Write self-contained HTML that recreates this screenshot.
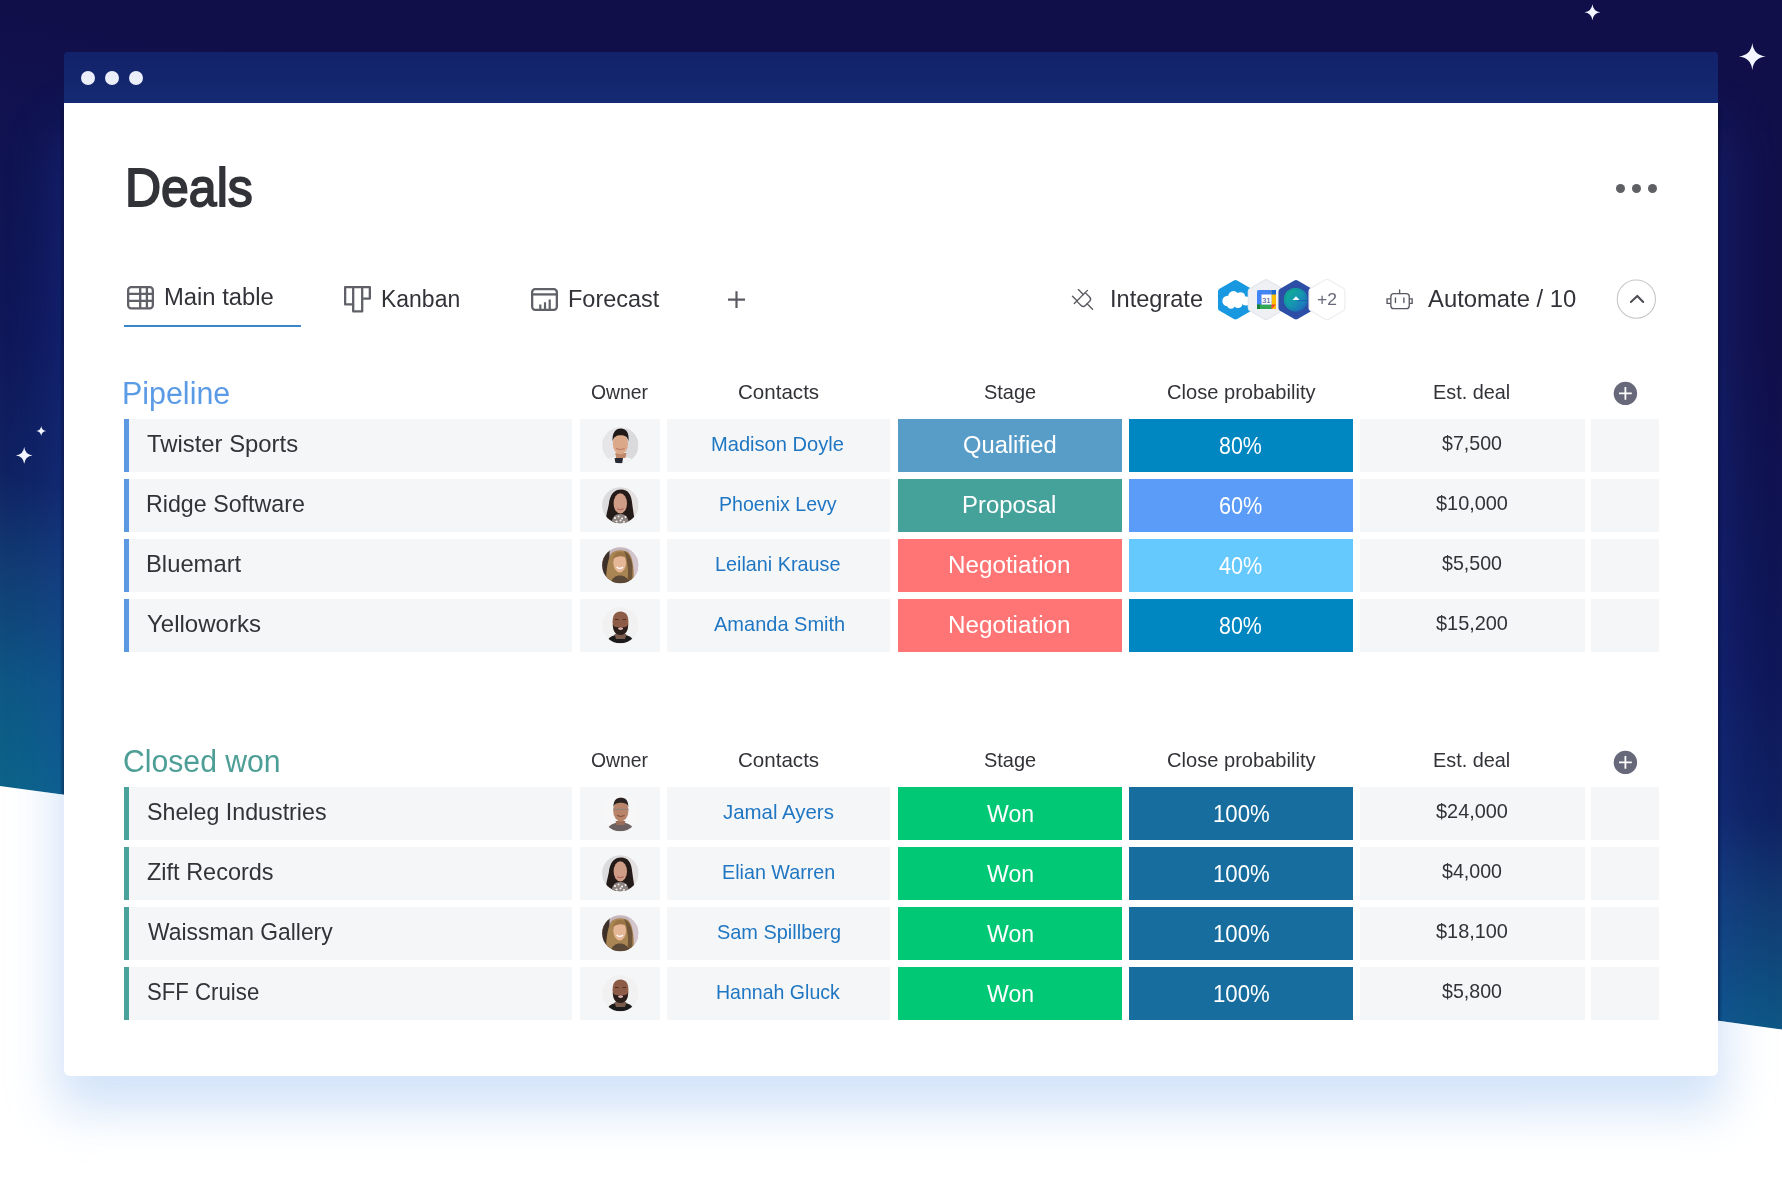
<!DOCTYPE html>
<html><head><meta charset="utf-8"><title>Deals</title>
<style>
html,body{margin:0;padding:0;}
body{width:1782px;height:1188px;position:relative;overflow:hidden;background:#fff;font-family:"Liberation Sans",sans-serif;}
.abs{position:absolute;}
.t{position:absolute;white-space:nowrap;line-height:1;transform-origin:0 0;}
.c{position:absolute;}
.g{background:#f5f6f8;}
.av{position:absolute;}
</style></head><body>
<svg class="abs" style="left:0;top:0" width="1782" height="1188" viewBox="0 0 1782 1188">
<defs>
<linearGradient id="bgg" gradientUnits="userSpaceOnUse" x1="0" y1="0" x2="-147.66" y2="757.21">
<stop offset="0" stop-color="#110f4a"/>
<stop offset="0.42" stop-color="#0f1759"/>
<stop offset="0.60" stop-color="#102262"/>
<stop offset="0.71" stop-color="#123a72"/>
<stop offset="0.865" stop-color="#0e5684"/>
<stop offset="1" stop-color="#0c6389"/>
</linearGradient>
<filter id="blur1" x="-20%" y="-20%" width="140%" height="140%"><feGaussianBlur stdDeviation="28"/></filter>
<filter id="blur3" x="-5%" y="-5%" width="110%" height="110%"><feGaussianBlur stdDeviation="1.5"/></filter>
<filter id="blur2" x="-10%" y="-30%" width="120%" height="160%"><feGaussianBlur stdDeviation="24"/></filter>
<clipPath id="whiteclip"><polygon points="0,786 1782,1029.4 1782,1188 0,1188"/></clipPath>
</defs>
<rect width="1782" height="1188" fill="url(#bgg)"/>
<rect x="64" y="130" width="1654" height="946" fill="#1a48c0" opacity="0.38" filter="url(#blur1)"/>
<path d="M64 108V1072Q64 1076 68 1076H1714Q1718 1076 1718 1072V108" fill="none" stroke="#070720" stroke-width="3" opacity="0.55" filter="url(#blur3)"/>
<polygon points="0,786 1782,1029.4 1782,1188 0,1188" fill="#ffffff"/>
<g clip-path="url(#whiteclip)">
<rect x="56" y="700" width="1670" height="410" rx="14" fill="#cde0f8" opacity="0.9" filter="url(#blur2)"/>
</g>
<path d="M1592.4 4.300000000000001 Q1593.2 11.5 1600.4 12.3 Q1593.2 13.100000000000001 1592.4 20.3 Q1591.6000000000001 13.100000000000001 1584.4 12.3 Q1591.6000000000001 11.5 1592.4 4.300000000000001Z" fill="#f4f6ff"/>
<path d="M1752.3 43.1 Q1753.6399999999999 55.16 1765.7 56.5 Q1753.6399999999999 57.84 1752.3 69.9 Q1750.96 57.84 1738.8999999999999 56.5 Q1750.96 55.16 1752.3 43.1Z" fill="#f4f6ff"/>
<path d="M41.2 425.9 Q41.7 430.4 46.2 430.9 Q41.7 431.4 41.2 435.9 Q40.7 431.4 36.2 430.9 Q40.7 430.4 41.2 425.9Z" fill="#f4f6ff"/>
<path d="M24.2 447.09999999999997 Q25.03 454.57 32.5 455.4 Q25.03 456.22999999999996 24.2 463.7 Q23.369999999999997 456.22999999999996 15.899999999999999 455.4 Q23.369999999999997 454.57 24.2 447.09999999999997Z" fill="#f4f6ff"/>
</svg>
<div class="abs" style="left:64px;top:52px;width:1654px;height:51px;background:linear-gradient(180deg,#13226a,#13276e 60%,#142a74);border-radius:4px 4px 0 0"></div>
<div class="abs" style="left:64px;top:103px;width:1654px;height:973px;background:#ffffff;border-radius:0 0 6px 6px"></div>
<div class="abs" style="left:81px;top:70.7px;width:14px;height:14px;border-radius:50%;background:#eceffa"></div>
<div class="abs" style="left:105px;top:70.7px;width:14px;height:14px;border-radius:50%;background:#eceffa"></div>
<div class="abs" style="left:129px;top:70.7px;width:14px;height:14px;border-radius:50%;background:#eceffa"></div>
<div class="abs" style="left:1616.1px;top:183.8px;width:9px;height:9px;border-radius:50%;background:#5f6064"></div>
<div class="abs" style="left:1631.8px;top:183.8px;width:9px;height:9px;border-radius:50%;background:#5f6064"></div>
<div class="abs" style="left:1647.5px;top:183.8px;width:9px;height:9px;border-radius:50%;background:#5f6064"></div>
<div class="abs" style="left:124px;top:325px;width:177px;height:2px;background:#3a86cc"></div>

<svg class="abs" style="left:127px;top:286px" width="27" height="24" viewBox="0 0 27 24" fill="none" stroke="#606168" stroke-width="2.3">
<rect x="1.15" y="1.15" width="24.7" height="21.2" rx="3"/>
<path d="M13.2 1.2V22.4M19.9 1.2V22.4M1.2 7.9H25.9M1.2 14.9H25.9"/>
</svg>
<svg class="abs" style="left:344px;top:286px" width="27" height="27" viewBox="0 0 27 27" fill="none" stroke="#606168" stroke-width="2.3" stroke-linejoin="round">
<path d="M1.15 1.15H25.85V12.6H18.2V25.4H9.2V18.4H1.15Z"/>
<path d="M9.2 1.2V18.4M18.2 1.2V12.6"/>
</svg>
<svg class="abs" style="left:531px;top:288px" width="27" height="23" viewBox="0 0 27 23" fill="none" stroke="#606168" stroke-width="2.3">
<rect x="1.15" y="1.15" width="24.7" height="20.7" rx="3"/>
<path d="M1.2 6.4H25.9"/>
<path d="M9.3 21V16.6M14 21V14.2M18.7 21V11.6" stroke-width="2.2"/>
</svg>
<svg class="abs" style="left:726px;top:290px" width="21" height="20" viewBox="0 0 21 20" fill="none" stroke="#5a5b62" stroke-width="2.2">
<path d="M2 9.7H19M10.5 1.3V18"/>
</svg>
<svg class="abs" style="left:1066px;top:282px" width="34" height="34" viewBox="0 0 34 34" fill="none" stroke="#5a5a60" stroke-width="1.35" stroke-linecap="round">
<g transform="translate(14.9 14.95) rotate(-45)">
<path d="M-9.3 0H9.3"/>
<path d="M6.1 0V6.2A3 3 0 0 1 3.1 9.2H-2.9A3 3 0 0 1 -5.9 6.2V0"/>
<path d="M3.4 0V-7M-5.45 0V-6.5M-0.5 9.2V17"/>
</g>
</svg>
<svg class="abs" style="left:1380px;top:282px" width="40" height="34" viewBox="0 0 40 34" fill="none" stroke="#585862" stroke-width="1.35">
<rect x="10.85" y="11.55" width="18.4" height="15.1" rx="3"/>
<path d="M19.6 7.9V11.55M15.45 16V20.6M23.9 16V20.6" stroke-linecap="round"/>
<path d="M10.85 16.85H7.05V21.35H10.85M29.25 16.85H32.15V21.35H29.25"/>
</svg>
<svg class="abs" style="left:1610px;top:272px" width="54" height="54" viewBox="0 0 54 54" fill="none">
<circle cx="26.35" cy="27.15" r="19.1" stroke="#c6c6c8" stroke-width="1.1"/>
<path d="M20.9 30L27.3 23.9L33.2 30" stroke="#4f4f57" stroke-width="2.1" stroke-linecap="round" stroke-linejoin="round"/>
</svg>

<svg class="abs" style="left:1210px;top:270px" width="140" height="60" viewBox="1210 270 140 60">
<defs>
<linearGradient id="tg" x1="0" y1="0" x2="1" y2="1"><stop offset="0" stop-color="#10b48a"/><stop offset="0.5" stop-color="#1497b0"/><stop offset="1" stop-color="#2463c4"/></linearGradient>
</defs>
<polygon points="1235.50,283.20 1249.79,291.45 1249.79,307.95 1235.50,316.20 1221.21,307.95 1221.21,291.45" fill="#1798e0" stroke="#1798e0" stroke-width="6.5" stroke-linejoin="round"/>
<g fill="#ffffff">
<circle cx="1227.5" cy="301" r="5.2"/><circle cx="1233.5" cy="296.5" r="5.4"/><circle cx="1240.5" cy="297" r="4.8"/><circle cx="1246" cy="301" r="4.6"/><circle cx="1238" cy="303.5" r="4.6"/><circle cx="1231" cy="304.5" r="4.2"/>
</g>
<polygon points="1266.00,283.10 1280.29,291.35 1280.29,307.85 1266.00,316.10 1251.71,307.85 1251.71,291.35" fill="#eef0f4" stroke="#e3e5ea" stroke-width="8" stroke-linejoin="round"/>
<polygon points="1266.00,283.10 1280.29,291.35 1280.29,307.85 1266.00,316.10 1251.71,307.85 1251.71,291.35" fill="#eef0f4" stroke="#eef0f4" stroke-width="5.6" stroke-linejoin="round"/>
<g>
<rect x="1257" y="290" width="19" height="19" rx="1.5" fill="#4285f4"/>
<rect x="1271.5" y="290" width="4.5" height="19" fill="#fbbc04"/>
<rect x="1271.5" y="290" width="4.5" height="4.5" fill="#1967d2"/>
<rect x="1257" y="304.5" width="14.5" height="4.5" fill="#34a853"/>
<rect x="1257" y="304.5" width="3" height="4.5" fill="#188038"/>
<path d="M1271.5 304.5H1276L1271.5 309Z" fill="#ea4335"/>
<rect x="1261.5" y="294.5" width="10" height="10" fill="#ffffff"/>
<text x="1266.3" y="302.8" font-family="Liberation Sans" font-size="7.8" fill="#3d4788" text-anchor="middle">31</text>
</g>
<polygon points="1296.00,283.20 1310.29,291.45 1310.29,307.95 1296.00,316.20 1281.71,307.95 1281.71,291.45" fill="#2d4ea6" stroke="#2d4ea6" stroke-width="6.5" stroke-linejoin="round"/>
<circle cx="1295.7" cy="299.7" r="11.8" fill="url(#tg)"/>
<circle cx="1295.7" cy="299.7" r="10.6" fill="none" stroke="#0a5f8a" stroke-opacity="0.35" stroke-width="0.8"/>
<path d="M1296.8 300.6H1307" stroke="#1d4fb0" stroke-width="1" opacity="0.6"/>
<path d="M1296 296.2L1299.6 300H1292.4Z" fill="#f2fbff"/>
<polygon points="1327.00,282.75 1341.51,291.12 1341.51,307.88 1327.00,316.25 1312.49,307.88 1312.49,291.12" fill="#ffffff" stroke="#ededf0" stroke-width="8" stroke-linejoin="round"/>
<polygon points="1327.00,282.75 1341.51,291.12 1341.51,307.88 1327.00,316.25 1312.49,307.88 1312.49,291.12" fill="#ffffff" stroke="#ffffff" stroke-width="5.6" stroke-linejoin="round"/>
</svg>
<svg class="abs" style="left:1612px;top:380px" width="27" height="27" viewBox="0 0 27 27"><circle cx="13.4" cy="13.4" r="11.7" fill="#676879"/><path d="M7 13.4H19.8M13.4 7V19.8" stroke="#fff" stroke-width="1.8"/></svg>
<svg class="abs" style="left:1612px;top:748.5px" width="27" height="27" viewBox="0 0 27 27"><circle cx="13.4" cy="13.4" r="11.7" fill="#676879"/><path d="M7 13.4H19.8M13.4 7V19.8" stroke="#fff" stroke-width="1.8"/></svg>
<div class="c" style="left:124px;top:418.7px;width:5px;height:53px;background:#5b99e3"></div><div class="c g" style="left:129px;top:418.7px;width:443px;height:53px"></div><div class="c g" style="left:580px;top:418.7px;width:80px;height:53px"></div><div class="c g" style="left:667px;top:418.7px;width:223px;height:53px"></div><div class="c" style="left:898px;top:418.7px;width:224px;height:53px;background:#589dc8"></div><div class="c" style="left:1129px;top:418.7px;width:224px;height:53px;background:#0086c0"></div><div class="c g" style="left:1360px;top:418.7px;width:225px;height:53px"></div><div class="c g" style="left:1591px;top:418.7px;width:68px;height:53px"></div><div class="c" style="left:124px;top:478.7px;width:5px;height:53px;background:#5b99e3"></div><div class="c g" style="left:129px;top:478.7px;width:443px;height:53px"></div><div class="c g" style="left:580px;top:478.7px;width:80px;height:53px"></div><div class="c g" style="left:667px;top:478.7px;width:223px;height:53px"></div><div class="c" style="left:898px;top:478.7px;width:224px;height:53px;background:#45a29b"></div><div class="c" style="left:1129px;top:478.7px;width:224px;height:53px;background:#5b9cf8"></div><div class="c g" style="left:1360px;top:478.7px;width:225px;height:53px"></div><div class="c g" style="left:1591px;top:478.7px;width:68px;height:53px"></div><div class="c" style="left:124px;top:538.7px;width:5px;height:53px;background:#5b99e3"></div><div class="c g" style="left:129px;top:538.7px;width:443px;height:53px"></div><div class="c g" style="left:580px;top:538.7px;width:80px;height:53px"></div><div class="c g" style="left:667px;top:538.7px;width:223px;height:53px"></div><div class="c" style="left:898px;top:538.7px;width:224px;height:53px;background:#ff7474"></div><div class="c" style="left:1129px;top:538.7px;width:224px;height:53px;background:#66c9fd"></div><div class="c g" style="left:1360px;top:538.7px;width:225px;height:53px"></div><div class="c g" style="left:1591px;top:538.7px;width:68px;height:53px"></div><div class="c" style="left:124px;top:598.7px;width:5px;height:53px;background:#5b99e3"></div><div class="c g" style="left:129px;top:598.7px;width:443px;height:53px"></div><div class="c g" style="left:580px;top:598.7px;width:80px;height:53px"></div><div class="c g" style="left:667px;top:598.7px;width:223px;height:53px"></div><div class="c" style="left:898px;top:598.7px;width:224px;height:53px;background:#ff7474"></div><div class="c" style="left:1129px;top:598.7px;width:224px;height:53px;background:#0086c0"></div><div class="c g" style="left:1360px;top:598.7px;width:225px;height:53px"></div><div class="c g" style="left:1591px;top:598.7px;width:68px;height:53px"></div><div class="c" style="left:124px;top:786.9px;width:5px;height:53px;background:#4aa39a"></div><div class="c g" style="left:129px;top:786.9px;width:443px;height:53px"></div><div class="c g" style="left:580px;top:786.9px;width:80px;height:53px"></div><div class="c g" style="left:667px;top:786.9px;width:223px;height:53px"></div><div class="c" style="left:898px;top:786.9px;width:224px;height:53px;background:#00c875"></div><div class="c" style="left:1129px;top:786.9px;width:224px;height:53px;background:#176d9d"></div><div class="c g" style="left:1360px;top:786.9px;width:225px;height:53px"></div><div class="c g" style="left:1591px;top:786.9px;width:68px;height:53px"></div><div class="c" style="left:124px;top:846.9px;width:5px;height:53px;background:#4aa39a"></div><div class="c g" style="left:129px;top:846.9px;width:443px;height:53px"></div><div class="c g" style="left:580px;top:846.9px;width:80px;height:53px"></div><div class="c g" style="left:667px;top:846.9px;width:223px;height:53px"></div><div class="c" style="left:898px;top:846.9px;width:224px;height:53px;background:#00c875"></div><div class="c" style="left:1129px;top:846.9px;width:224px;height:53px;background:#176d9d"></div><div class="c g" style="left:1360px;top:846.9px;width:225px;height:53px"></div><div class="c g" style="left:1591px;top:846.9px;width:68px;height:53px"></div><div class="c" style="left:124px;top:906.9px;width:5px;height:53px;background:#4aa39a"></div><div class="c g" style="left:129px;top:906.9px;width:443px;height:53px"></div><div class="c g" style="left:580px;top:906.9px;width:80px;height:53px"></div><div class="c g" style="left:667px;top:906.9px;width:223px;height:53px"></div><div class="c" style="left:898px;top:906.9px;width:224px;height:53px;background:#00c875"></div><div class="c" style="left:1129px;top:906.9px;width:224px;height:53px;background:#176d9d"></div><div class="c g" style="left:1360px;top:906.9px;width:225px;height:53px"></div><div class="c g" style="left:1591px;top:906.9px;width:68px;height:53px"></div><div class="c" style="left:124px;top:966.9px;width:5px;height:53px;background:#4aa39a"></div><div class="c g" style="left:129px;top:966.9px;width:443px;height:53px"></div><div class="c g" style="left:580px;top:966.9px;width:80px;height:53px"></div><div class="c g" style="left:667px;top:966.9px;width:223px;height:53px"></div><div class="c" style="left:898px;top:966.9px;width:224px;height:53px;background:#00c875"></div><div class="c" style="left:1129px;top:966.9px;width:224px;height:53px;background:#176d9d"></div><div class="c g" style="left:1360px;top:966.9px;width:225px;height:53px"></div><div class="c g" style="left:1591px;top:966.9px;width:68px;height:53px"></div>
<svg class="av" style="left:602.25px;top:427.25px" width="36.5" height="36.5" viewBox="0 0 36.5 36.5"><defs><clipPath id="cpA445"><circle cx="18.25" cy="18.25" r="18.1"/></clipPath></defs><g clip-path="url(#cpA445)"><rect width="36.5" height="36.5" fill="#e6e6e8"/>
<rect x="24" width="12.5" height="36.5" fill="#dadadc"/>
<path d="M3 36.5 C6 31 11 29.5 18 29.5 C25 29.5 31 31 34 36.5Z" fill="#f4f4f4"/>
<path d="M13.2 26 H24.5 L23.5 31 H14.2Z" fill="#c08a6a"/>
<path d="M12.6 31 H21 L20.2 36.5 H13.4Z" fill="#262a36"/>
<ellipse cx="18.4" cy="16.8" rx="7.6" ry="10.4" fill="#dca88a"/>
<path d="M10.6 14.5 C10 6 13.5 1.6 18.8 1.6 C24 1.6 27.4 5.5 26.5 14.5 C25.6 9.5 23 8.2 18.6 8.2 C14.3 8.2 11.6 9.8 10.6 14.5Z" fill="#1f1a18"/>
<path d="M14 21.5 Q18.4 23.8 22.6 21.5" stroke="#b07060" stroke-width="0.9" fill="none"/></g></svg>
<svg class="av" style="left:602.25px;top:487.25px" width="36.5" height="36.5" viewBox="0 0 36.5 36.5"><defs><clipPath id="cpB505"><circle cx="18.25" cy="18.25" r="18.1"/></clipPath></defs><g clip-path="url(#cpB505)"><rect width="36.5" height="36.5" fill="#dcdcde"/>
<rect x="24" width="12.5" height="36.5" fill="#e4e0e0"/>
<path d="M3.5 36.5 C3.5 30 5.5 24 6.8 17.5 C8 7 12.5 2.6 19.2 2.6 C26 2.6 29.5 7.5 30.3 17.5 C31 24 32.5 30 32.5 36.5Z" fill="#241a18"/>
<ellipse cx="18.3" cy="16.4" rx="6.7" ry="10.2" fill="#cf9c86"/>
<path d="M9.5 36.5 C10 30 13 27 18.3 27 C23.5 27 26.2 30 27 36.5Z" fill="#8e8480"/>
<g fill="#f2f0ee"><circle cx="13" cy="31" r="1.1"/><circle cx="16.5" cy="29.5" r="1"/><circle cx="20" cy="31.5" r="1.1"/><circle cx="23.5" cy="30" r="1"/><circle cx="14.5" cy="34.5" r="1.1"/><circle cx="18.5" cy="33.5" r="1"/><circle cx="22" cy="35" r="1.1"/></g>
<path d="M15 21.8 Q18.3 23.6 21.6 21.8" stroke="#a86060" stroke-width="1" fill="none"/></g></svg>
<svg class="av" style="left:602.25px;top:547.25px" width="36.5" height="36.5" viewBox="0 0 36.5 36.5"><defs><clipPath id="cpC565"><circle cx="18.25" cy="18.25" r="18.1"/></clipPath></defs><g clip-path="url(#cpC565)"><rect width="36.5" height="36.5" fill="#c6b6bd"/>
<rect x="0" width="7.5" height="36.5" fill="#3e3129"/>
<rect x="27" width="9.5" height="36.5" fill="#d4c4cc"/>
<path d="M4.5 36.5 C3.5 28 5 14 9 7 C12 2.5 23 2 27 6 C31 10.5 32.5 25 31.5 36.5Z" fill="#a88552"/>
<path d="M22 4 C27 6 30 12 30.5 20 C30 27 31 33 29 36.5 L25 36.5 C27 28 26 14 22 4Z" fill="#6e5438"/>
<ellipse cx="17.7" cy="15.8" rx="6.4" ry="9.6" fill="#e6b797"/>
<path d="M11.3 12 C12 6.5 15 5 18.5 5 C22 5 24.5 7 24.5 11 C21.5 8.5 15 8.2 11.3 12Z" fill="#9a7444"/>
<path d="M14.6 20 Q17.8 22.8 21 20" stroke="#ffffff" stroke-width="1.3" fill="none"/>
<path d="M8 36.5 C10 31 13.5 28.5 18 28.5 C22.5 28.5 26 31 28 36.5Z" fill="#5a4736"/></g></svg>
<svg class="av" style="left:602.25px;top:607.25px" width="36.5" height="36.5" viewBox="0 0 36.5 36.5"><defs><clipPath id="cpD625"><circle cx="18.25" cy="18.25" r="18.1"/></clipPath></defs><g clip-path="url(#cpD625)"><rect width="36.5" height="36.5" fill="#f1f1f2"/>
<path d="M4.2 36.5 C6 30 11 27.5 18.5 27.5 C26 27.5 31 30 32.5 36.5Z" fill="#1c1a1b"/>
<path d="M12.5 27 H24.5 L23 32 H14Z" fill="#7a5a4c"/>
<path d="M10.6 15 C10.6 8 13.5 4.6 18.5 4.6 C23.6 4.6 26.4 8 26.4 15 C26.4 23 23.5 28 18.5 28 C13.5 28 10.6 23 10.6 15Z" fill="#8c5c46"/>
<path d="M10.8 17.5 C11 24 13.5 28 18.5 28 C23.5 28 26 24 26.2 17.5 C24.5 21 22 20 18.5 20 C15 20 12.5 21 10.8 17.5Z" fill="#2a1e1a"/>
<ellipse cx="18.6" cy="21.6" rx="2.6" ry="1.4" fill="#d8b0a8"/>
<path d="M13 12.5 H16.5 M20.5 12.5 H24" stroke="#4a3020" stroke-width="1"/></g></svg>
<svg class="av" style="left:602.25px;top:795.45px" width="36.5" height="36.5" viewBox="0 0 36.5 36.5"><defs><clipPath id="cpE813"><circle cx="18.25" cy="18.25" r="18.1"/></clipPath></defs><g clip-path="url(#cpE813)"><rect width="36.5" height="36.5" fill="#f7f7f8"/>
<path d="M4.2 36.5 C6 30.5 11 27.5 18.5 27.5 C26 27.5 31 30.5 32.8 36.5Z" fill="#6c6160"/>
<path d="M13.5 26 H23.5 L22.5 30 H14.5Z" fill="#9a6e5a"/>
<ellipse cx="18.8" cy="15.8" rx="7.6" ry="10.6" fill="#b8846a"/>
<path d="M11.4 12 C11.4 5 14.5 2.7 18.9 2.7 C23.3 2.7 26.4 5 26.4 12 C25 8.5 22.5 7.8 18.9 7.8 C15.3 7.8 12.8 8.5 11.4 12Z" fill="#2a2220"/>
<path d="M11.2 14.3 H26.6" stroke="#8c8480" stroke-width="1"/>
<path d="M15 20.5 Q18.8 22.5 22.5 20.5" stroke="#7a4a3a" stroke-width="1" fill="none"/></g></svg>
<svg class="av" style="left:602.25px;top:855.45px" width="36.5" height="36.5" viewBox="0 0 36.5 36.5"><defs><clipPath id="cpB873"><circle cx="18.25" cy="18.25" r="18.1"/></clipPath></defs><g clip-path="url(#cpB873)"><rect width="36.5" height="36.5" fill="#dcdcde"/>
<rect x="24" width="12.5" height="36.5" fill="#e4e0e0"/>
<path d="M3.5 36.5 C3.5 30 5.5 24 6.8 17.5 C8 7 12.5 2.6 19.2 2.6 C26 2.6 29.5 7.5 30.3 17.5 C31 24 32.5 30 32.5 36.5Z" fill="#241a18"/>
<ellipse cx="18.3" cy="16.4" rx="6.7" ry="10.2" fill="#cf9c86"/>
<path d="M9.5 36.5 C10 30 13 27 18.3 27 C23.5 27 26.2 30 27 36.5Z" fill="#8e8480"/>
<g fill="#f2f0ee"><circle cx="13" cy="31" r="1.1"/><circle cx="16.5" cy="29.5" r="1"/><circle cx="20" cy="31.5" r="1.1"/><circle cx="23.5" cy="30" r="1"/><circle cx="14.5" cy="34.5" r="1.1"/><circle cx="18.5" cy="33.5" r="1"/><circle cx="22" cy="35" r="1.1"/></g>
<path d="M15 21.8 Q18.3 23.6 21.6 21.8" stroke="#a86060" stroke-width="1" fill="none"/></g></svg>
<svg class="av" style="left:602.25px;top:915.45px" width="36.5" height="36.5" viewBox="0 0 36.5 36.5"><defs><clipPath id="cpC933"><circle cx="18.25" cy="18.25" r="18.1"/></clipPath></defs><g clip-path="url(#cpC933)"><rect width="36.5" height="36.5" fill="#c6b6bd"/>
<rect x="0" width="7.5" height="36.5" fill="#3e3129"/>
<rect x="27" width="9.5" height="36.5" fill="#d4c4cc"/>
<path d="M4.5 36.5 C3.5 28 5 14 9 7 C12 2.5 23 2 27 6 C31 10.5 32.5 25 31.5 36.5Z" fill="#a88552"/>
<path d="M22 4 C27 6 30 12 30.5 20 C30 27 31 33 29 36.5 L25 36.5 C27 28 26 14 22 4Z" fill="#6e5438"/>
<ellipse cx="17.7" cy="15.8" rx="6.4" ry="9.6" fill="#e6b797"/>
<path d="M11.3 12 C12 6.5 15 5 18.5 5 C22 5 24.5 7 24.5 11 C21.5 8.5 15 8.2 11.3 12Z" fill="#9a7444"/>
<path d="M14.6 20 Q17.8 22.8 21 20" stroke="#ffffff" stroke-width="1.3" fill="none"/>
<path d="M8 36.5 C10 31 13.5 28.5 18 28.5 C22.5 28.5 26 31 28 36.5Z" fill="#5a4736"/></g></svg>
<svg class="av" style="left:602.25px;top:975.45px" width="36.5" height="36.5" viewBox="0 0 36.5 36.5"><defs><clipPath id="cpD993"><circle cx="18.25" cy="18.25" r="18.1"/></clipPath></defs><g clip-path="url(#cpD993)"><rect width="36.5" height="36.5" fill="#f1f1f2"/>
<path d="M4.2 36.5 C6 30 11 27.5 18.5 27.5 C26 27.5 31 30 32.5 36.5Z" fill="#1c1a1b"/>
<path d="M12.5 27 H24.5 L23 32 H14Z" fill="#7a5a4c"/>
<path d="M10.6 15 C10.6 8 13.5 4.6 18.5 4.6 C23.6 4.6 26.4 8 26.4 15 C26.4 23 23.5 28 18.5 28 C13.5 28 10.6 23 10.6 15Z" fill="#8c5c46"/>
<path d="M10.8 17.5 C11 24 13.5 28 18.5 28 C23.5 28 26 24 26.2 17.5 C24.5 21 22 20 18.5 20 C15 20 12.5 21 10.8 17.5Z" fill="#2a1e1a"/>
<ellipse cx="18.6" cy="21.6" rx="2.6" ry="1.4" fill="#d8b0a8"/>
<path d="M13 12.5 H16.5 M20.5 12.5 H24" stroke="#4a3020" stroke-width="1"/></g></svg>
<div class="t" style="left:125.18px;top:161px;font-size:53.2px;transform:scaleX(0.9394);color:#323338;-webkit-text-stroke:1.8px #323338;">Deals</div><div class="t" style="left:164.01px;top:285px;font-size:23.98px;transform:scaleX(0.9935);color:#323338;">Main table</div><div class="t" style="left:381.38px;top:287px;font-size:23.98px;transform:scaleX(0.9582);color:#323338;">Kanban</div><div class="t" style="left:568.03px;top:287px;font-size:23.84px;transform:scaleX(0.9856);color:#323338;">Forecast</div><div class="t" style="left:1110.02px;top:287px;font-size:23.84px;transform:scaleX(0.9890);color:#323338;">Integrate</div><div class="t" style="left:1427.70px;top:288px;font-size:23.55px;transform:scaleX(1.0116);color:#323338;">Automate / 10</div><div class="t" style="left:122.44px;top:379px;font-size:30.81px;transform:scaleX(0.9876);color:#5b9be6;">Pipeline</div><div class="t" style="left:590.87px;top:382px;font-size:20.78px;transform:scaleX(0.9317);color:#323338;">Owner</div><div class="t" style="left:738.11px;top:382px;font-size:20.78px;transform:scaleX(0.9900);color:#323338;">Contacts</div><div class="t" style="left:983.94px;top:382px;font-size:20.78px;transform:scaleX(0.9615);color:#323338;">Stage</div><div class="t" style="left:1166.53px;top:382px;font-size:20.78px;transform:scaleX(0.9678);color:#323338;">Close probability</div><div class="t" style="left:1433.39px;top:382px;font-size:20.78px;transform:scaleX(0.9564);color:#323338;">Est. deal</div><div class="t" style="left:122.84px;top:747px;font-size:30.81px;transform:scaleX(0.9796);color:#4d9e96;">Closed won</div><div class="t" style="left:590.87px;top:750px;font-size:20.78px;transform:scaleX(0.9317);color:#323338;">Owner</div><div class="t" style="left:738.11px;top:750px;font-size:20.78px;transform:scaleX(0.9900);color:#323338;">Contacts</div><div class="t" style="left:983.94px;top:750px;font-size:20.78px;transform:scaleX(0.9615);color:#323338;">Stage</div><div class="t" style="left:1166.53px;top:750px;font-size:20.78px;transform:scaleX(0.9678);color:#323338;">Close probability</div><div class="t" style="left:1433.39px;top:750px;font-size:20.78px;transform:scaleX(0.9564);color:#323338;">Est. deal</div><div class="t" style="left:146.71px;top:432px;font-size:24.13px;transform:scaleX(0.9887);color:#323338;">Twister Sports</div><div class="t" style="left:711.45px;top:434px;font-size:20.64px;transform:scaleX(0.9746);color:#1f76c2;">Madison Doyle</div><div class="t" style="left:963.01px;top:433px;font-size:23.98px;transform:scaleX(0.9891);color:#ffffff;">Qualified</div><div class="t" style="left:1219.28px;top:435px;font-size:23.11px;transform:scaleX(0.9244);color:#ffffff;">80%</div><div class="t" style="left:1441.93px;top:433px;font-size:20.2px;transform:scaleX(0.9717);color:#323338;">$7,500</div><div class="t" style="left:146.47px;top:492px;font-size:24.13px;transform:scaleX(0.9630);color:#323338;">Ridge Software</div><div class="t" style="left:718.80px;top:494px;font-size:20.64px;transform:scaleX(0.9500);color:#1f76c2;">Phoenix Levy</div><div class="t" style="left:962.31px;top:493px;font-size:23.98px;transform:scaleX(0.9967);color:#ffffff;">Proposal</div><div class="t" style="left:1218.76px;top:495px;font-size:23.11px;transform:scaleX(0.9378);color:#ffffff;">60%</div><div class="t" style="left:1436.01px;top:493px;font-size:20.2px;transform:scaleX(0.9859);color:#323338;">$10,000</div><div class="t" style="left:146.43px;top:552px;font-size:24.13px;transform:scaleX(0.9862);color:#323338;">Bluemart</div><div class="t" style="left:715.48px;top:554px;font-size:20.64px;transform:scaleX(0.9602);color:#1f76c2;">Leilani Krause</div><div class="t" style="left:948.18px;top:553px;font-size:23.98px;transform:scaleX(1.0102);color:#ffffff;">Negotiation</div><div class="t" style="left:1219.07px;top:555px;font-size:23.11px;transform:scaleX(0.9333);color:#ffffff;">40%</div><div class="t" style="left:1441.93px;top:553px;font-size:20.2px;transform:scaleX(0.9717);color:#323338;">$5,500</div><div class="t" style="left:146.80px;top:612px;font-size:24.13px;transform:scaleX(0.9955);color:#323338;">Yelloworks</div><div class="t" style="left:713.60px;top:614px;font-size:20.64px;transform:scaleX(0.9701);color:#1f76c2;">Amanda Smith</div><div class="t" style="left:948.18px;top:613px;font-size:23.98px;transform:scaleX(1.0102);color:#ffffff;">Negotiation</div><div class="t" style="left:1219.28px;top:615px;font-size:23.11px;transform:scaleX(0.9244);color:#ffffff;">80%</div><div class="t" style="left:1436.01px;top:613px;font-size:20.2px;transform:scaleX(0.9859);color:#323338;">$15,200</div><div class="t" style="left:147.04px;top:800px;font-size:24.13px;transform:scaleX(0.9630);color:#323338;">Sheleg Industries</div><div class="t" style="left:723.11px;top:802px;font-size:20.64px;transform:scaleX(0.9900);color:#1f76c2;">Jamal Ayers</div><div class="t" style="left:987.20px;top:802px;font-size:23.98px;transform:scaleX(0.9638);color:#ffffff;">Won</div><div class="t" style="left:1212.78px;top:803px;font-size:23.11px;transform:scaleX(0.9607);color:#ffffff;">100%</div><div class="t" style="left:1436.01px;top:801px;font-size:20.2px;transform:scaleX(0.9859);color:#323338;">$24,000</div><div class="t" style="left:147.03px;top:860px;font-size:24.13px;transform:scaleX(0.9734);color:#323338;">Zift Records</div><div class="t" style="left:721.79px;top:862px;font-size:20.64px;transform:scaleX(0.9565);color:#1f76c2;">Elian Warren</div><div class="t" style="left:987.20px;top:862px;font-size:23.98px;transform:scaleX(0.9638);color:#ffffff;">Won</div><div class="t" style="left:1212.78px;top:863px;font-size:23.11px;transform:scaleX(0.9607);color:#ffffff;">100%</div><div class="t" style="left:1441.93px;top:861px;font-size:20.2px;transform:scaleX(0.9717);color:#323338;">$4,000</div><div class="t" style="left:148.00px;top:920px;font-size:24.13px;transform:scaleX(0.9477);color:#323338;">Waissman Gallery</div><div class="t" style="left:716.63px;top:922px;font-size:20.64px;transform:scaleX(0.9659);color:#1f76c2;">Sam Spillberg</div><div class="t" style="left:987.20px;top:922px;font-size:23.98px;transform:scaleX(0.9638);color:#ffffff;">Won</div><div class="t" style="left:1212.78px;top:923px;font-size:23.11px;transform:scaleX(0.9607);color:#ffffff;">100%</div><div class="t" style="left:1436.01px;top:921px;font-size:20.2px;transform:scaleX(0.9859);color:#323338;">$18,100</div><div class="t" style="left:147.08px;top:980px;font-size:24.13px;transform:scaleX(0.9200);color:#323338;">SFF Cruise</div><div class="t" style="left:715.71px;top:982px;font-size:20.64px;transform:scaleX(0.9473);color:#1f76c2;">Hannah Gluck</div><div class="t" style="left:987.20px;top:982px;font-size:23.98px;transform:scaleX(0.9638);color:#ffffff;">Won</div><div class="t" style="left:1212.78px;top:983px;font-size:23.11px;transform:scaleX(0.9607);color:#ffffff;">100%</div><div class="t" style="left:1441.93px;top:981px;font-size:20.2px;transform:scaleX(0.9717);color:#323338;">$5,800</div><div class="t" style="left:1317.11px;top:292px;font-size:15.99px;transform:scaleX(1.0938);color:#676879;">+2</div>
</body></html>
